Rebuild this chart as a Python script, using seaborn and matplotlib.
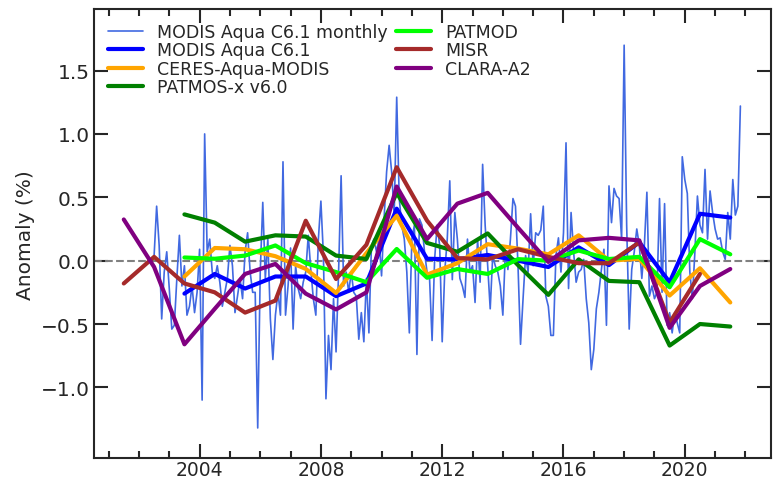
import numpy as np
import pandas as pd
import matplotlib
matplotlib.use("Agg")
import matplotlib.pyplot as plt
import seaborn as sns
from matplotlib.ticker import MultipleLocator

# ==============================
# Data
# ==============================

# monthly MODIS Aqua C6.1 anomalies, Jul 2002 onwards
monthly_start = 2002.5
monthly_anom = [
    0.04, 0.43, 0.12, -0.46, -0.09, 0.07, -0.22, -0.54, -0.51, -0.14,
    0.2, -0.2, -0.04, -0.43, -0.36, -0.2, -0.41, -0.25, 0.09, -1.1,
    1.0, 0.07, 0.17, -0.09, -0.14, -0.04, -0.17, -0.36, -0.25, -0.14,
    0.12, -0.04, -0.41, -0.28, -0.14, -0.3, 0.07, 0.22, -0.09, -0.25,
    -0.25, -1.32, -0.09, 0.46, -0.14, 0.17, -0.46, -0.78, -0.43, -0.25,
    -0.43, 0.78, -0.43, -0.2, 0.1, -0.54, -0.04, -0.22, -0.3, -0.17,
    -0.09, 0.2, -0.07, -0.3, -0.43, 0.17, 0.47, 0.04, -1.09, -0.59,
    -0.86, -0.3, -0.72, -0.09, 0.67, -0.2, -0.09, -0.25, -0.09, -0.25,
    -0.28, -0.62, -0.41, -0.64, -0.14, -0.57, 0.12, 0.17, 0.07, 0.17,
    -0.12, 0.33, 0.7, 0.91, 0.7, 0.36, 1.29, 0.49, 0.28, 0.17,
    -0.09, -0.57, 0.17, 0.28, -0.74, 0.33, 0.28, 0.07, -0.09, -0.14,
    -0.63, 0.01, 0.28, 0.12, -0.64, -0.09, 0.17, 0.63, -0.15, 0.38,
    0.17, -0.14, -0.2, -0.29, 0.17, -0.09, -0.04, -0.33, 0.17, -0.17,
    0.76, 0.28, -0.04, -0.38, 0.04, -0.04, -0.09, -0.2, -0.43, 0.07,
    -0.07, 0.17, 0.49, 0.43, -0.04, -0.66, -0.3, 0.04, -0.09, 0.37,
    -0.04, 0.22, 0.2, 0.24, 0.43, -0.28, -0.36, -0.59, -0.59, 0.04,
    0.18, -0.09, 0.22, 0.93, -0.22, 0.38, 0.07, -0.17, -0.09, -0.07,
    0.01, -0.3, -0.49, -0.86, -0.7, -0.38, -0.25, -0.07, 0.09, -0.51,
    0.59, 0.3, 0.57, 0.51, 0.49, 0.17, 1.7, 0.28, -0.54, -0.07,
    0.07, 0.25, 0.12, -0.14, 0.12, 0.54, -0.28, -0.2, -0.3, -0.25,
    0.49, -0.25, 0.45, -0.51, -0.41, -0.57, -0.41, -0.49, -0.57, 0.82,
    0.64, 0.53, -0.09, -0.3, 0.07, 0.51, 0.28, 0.22, 0.72, 0.17,
    0.55, 0.38, 0.25, 0.17, 0.18, 0.07, 0.01, 0.38, 0.17, 0.64,
    0.36, 0.43, 1.22,
]

years_modis = list(range(2003, 2022))
modis_annual = [-0.26, -0.105, -0.22, -0.125, -0.125, -0.28, -0.18, 0.41, 0.015, 0.01,
                0.045, 0.0, -0.05, 0.105, -0.035, 0.145, -0.17, 0.37, 0.34]
ceres = [-0.125, 0.10, 0.09, 0.035, -0.065, -0.255, 0.06, 0.355, -0.11, -0.02,
         0.13, 0.095, 0.05, 0.2, 0.0, 0.015, -0.275, -0.06, -0.33]
patmosx = [0.365, 0.30, 0.15, 0.2, 0.19, 0.04, 0.013, 0.535, 0.14, 0.07,
           0.215, -0.035, -0.27, 0.01, -0.16, -0.17, -0.67, -0.5, -0.52]
patmod = [0.025, 0.015, 0.04, 0.12, -0.02, -0.09, -0.17, 0.092, -0.135, -0.066,
          -0.105, 0.012, 0.0, 0.08, 0.013, 0.03, -0.21, 0.17, 0.05]

years_misr = list(range(2001, 2021))
misr = [-0.18, 0.03, -0.18, -0.25, -0.41, -0.315, 0.315, -0.145, 0.125, 0.737,
        0.316, 0.02, 0.01, 0.09, 0.03, -0.02, -0.02, 0.145, -0.49, -0.105]

years_clara = list(range(2001, 2022))
clara = [0.325, -0.05, -0.66, -0.38, -0.105, -0.026, -0.26, -0.385, -0.25, 0.585,
         0.17, 0.45, 0.535, 0.26, -0.01, 0.16, 0.18, 0.16, -0.53, -0.2, -0.066]

y_ticks = [-1.0, -0.5, 0.0, 0.5, 1.0, 1.5]

monthly_time = monthly_start + np.arange(len(monthly_anom)) / 12.0

# ==============================
# Plot
# ==============================

sns.set_style("ticks")
plt.rcParams["font.family"] = ["DejaVu Sans"]

fig, ax = plt.subplots(figsize=(7.78, 4.81), dpi=100)
fig.subplots_adjust(left=0.1213, right=0.9905, bottom=0.045, top=0.979)

ax.axhline(0, color="gray", linestyle="--", linewidth=1.5, zorder=1)

sns.lineplot(x=monthly_time, y=monthly_anom, color="royalblue", linewidth=1.2,
             label="MODIS Aqua C6.1 monthly", ax=ax, zorder=2)

annual = [
    ("MODIS Aqua C6.1", years_modis, modis_annual, "blue"),
    ("CERES-Aqua-MODIS", years_modis, ceres, "orange"),
    ("PATMOS-x v6.0", years_modis, patmosx, "green"),
    ("PATMOD", years_modis, patmod, "lime"),
    ("MISR", years_misr, misr, "brown"),
    ("CLARA-A2", years_clara, clara, "purple"),
]
for name, yrs, vals, col in annual:
    df = pd.DataFrame({"year": np.array(yrs) + 0.5, "anom": vals})
    sns.lineplot(data=df, x="year", y="anom", color=col, linewidth=3,
                 label=name, ax=ax, zorder=3)

ax.set_xlim(2000.53, 2022.83)
ax.set_ylim(-1.56, 1.985)
ax.xaxis.set_major_locator(MultipleLocator(4))
ax.xaxis.set_minor_locator(MultipleLocator(1))
ax.set_yticks(y_ticks)
ax.tick_params(which="both", direction="in", top=True, right=True, width=1.5)
ax.tick_params(which="major", length=10)
ax.tick_params(which="minor", length=5)
ax.tick_params(axis="y", labelsize=14.5)
ax.tick_params(axis="x", labelsize=13.5, pad=1)
for sp in ax.spines.values():
    sp.set_linewidth(1.5)

ax.set_xlabel("")
ax.set_ylabel("Anomaly (%)", fontsize=14.5)

ax.legend(loc="upper left", ncol=2, frameon=False, fontsize=12.5,
          labelspacing=0.02, columnspacing=0.5, handlelength=2.0,
          borderaxespad=0.4)

fig.savefig("out.png", dpi=100)
